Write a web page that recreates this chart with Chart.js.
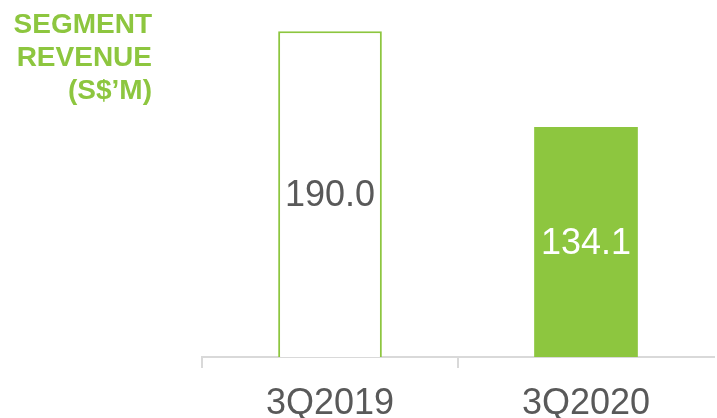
<!DOCTYPE html>
<html lang="en">
	<head>
		<meta charset="UTF-8" />
		<title>segment revenue</title>
		<script src="https://cdn.jsdelivr.net/npm/chart.js@4.4.0/dist/chart.umd.min.js"></script>
		<style>
			body { margin: 0; background: #ffffff; }
			#wrap { width: 717px; height: 418px; position: relative; }
		</style>
	</head>
	<body>
		<div id="wrap"><canvas id="myChart"></canvas></div>
	</body>
	<script>
		var quarters = ["3Q2019", "3Q2020"];
		var revenue = [190.0, 134.1];
		var titleLines = ["SEGMENT", "REVENUE", "(S$\u2019M)"];

		var green = "#8dc63f";
		var grey = "#595959";
		var font = "'Liberation Sans', Arial, sans-serif";

		// value labels in the middle of each bar
		var barLabels = {
			id: "barLabels",
			afterDatasetsDraw: function (chart) {
				var ctx = chart.ctx;
				var meta = chart.getDatasetMeta(0);
				ctx.save();
				ctx.font = "36px " + font;
				ctx.textAlign = "center";
				ctx.textBaseline = "middle";
				meta.data.forEach(function (bar, i) {
					ctx.fillStyle = i == 0 ? grey : "#ffffff";
					ctx.fillText(revenue[i].toFixed(1), bar.x, (bar.y + bar.base) / 2 + 2);
				});
				ctx.restore();
			},
		};

		// title in the top left corner
		var sideTitle = {
			id: "sideTitle",
			afterDraw: function (chart) {
				var ctx = chart.ctx;
				ctx.save();
				ctx.font = "bold 28px " + font;
				ctx.fillStyle = green;
				ctx.textAlign = "right";
				ctx.textBaseline = "alphabetic";
				titleLines.forEach(function (t, i) {
					ctx.fillText(t, 152, 33 + i * 33);
				});
				ctx.restore();
			},
		};

		var myChart = document.getElementById("myChart");
		var chart = new Chart(myChart, {
			type: "bar",
			data: {
				labels: quarters,
				datasets: [
					{
						data: revenue,
						backgroundColor: ["#ffffff", green],
						borderColor: [green, green],
						borderWidth: [2, 0],
						barPercentage: 0.405,
						categoryPercentage: 1,
					},
				],
			},
			options: {
				responsive: true,
				maintainAspectRatio: false,
				animation: false,
				layout: { padding: { left: 202, right: 3, top: 14, bottom: 0 } },
				plugins: { legend: { display: false }, tooltip: { enabled: false } },
				scales: {
					x: {
						afterFit: function (scale) {
							scale.height = 61;
						},
						border: { display: true, color: "#d9d9d9", width: 2 },
						grid: {
							offset: true,
							drawOnChartArea: false,
							drawTicks: true,
							tickLength: 11,
							color: function (c) {
								return c.index < 2 ? "#d9d9d9" : "rgba(0,0,0,0)";
							},
							lineWidth: 2,
						},
						ticks: {
							color: grey,
							font: { family: font, size: 36 },
							padding: 14,
						},
					},
					y: { display: false, min: 0, max: 200 },
				},
			},
			plugins: [barLabels, sideTitle],
		});
	</script>
</html>
